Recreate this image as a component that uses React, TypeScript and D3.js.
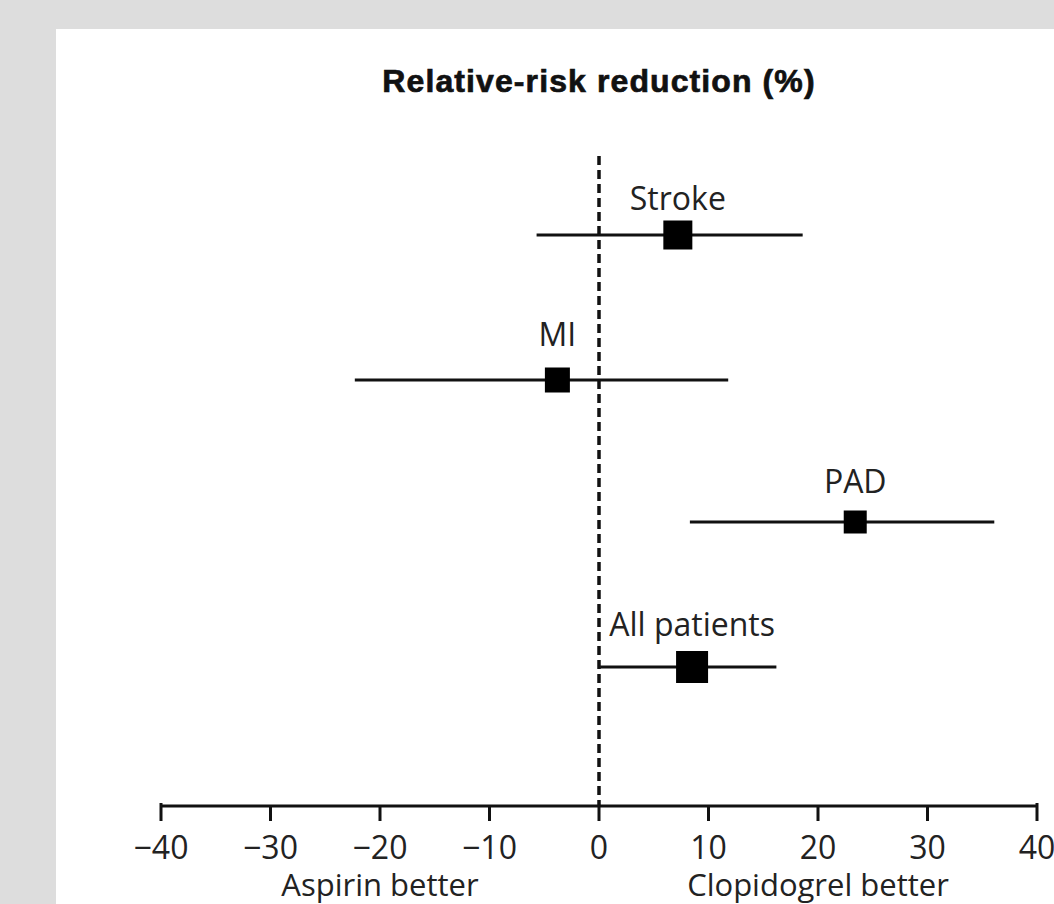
import React from "react";
import * as d3 from "d3";

const categories = ["Stroke", "MI", "PAD", "All patients"];
const estimates = [7.2, -3.8, 23.4, 8.5];
const lowerCI = [-5.7, -22.3, 8.3, 0.1];
const upperCI = [18.6, 11.8, 36.1, 16.2];
const markerSizes = [29, 25, 23, 32];
const tickValues = [-40, -30, -20, -10, 0, 10, 20, 30, 40];
const title = "Relative-risk reduction (%)";
const leftLabel = "Aspirin better";
const rightLabel = "Clopidogrel better";

const W = 1054;
const H = 904;
const FONT = "'Open Sans', 'Noto Sans', sans-serif";
const TITLE_FONT = "'Liberation Sans', Arial, sans-serif";

export default function App() {
  const x = d3.scaleLinear().domain([-40, 40]).range([161, 1037]);
  const rowY = [235, 380, 522, 667];
  const labelOffset = [38, 47, 42, 44];
  const axisY = 806;
  const fmt = (v: number) => (v < 0 ? "\u2212" + Math.abs(v) : String(v));

  return (
    <div style={{ position: "absolute", left: 0, top: 0 }}>
      <svg width={W} height={H} style={{ display: "block" }}>
        <rect x={0} y={0} width={W} height={H} fill="#dddddd" />
        <rect x={56} y={29} width={W - 56} height={H - 29} fill="#ffffff" />
        <text
          x={x(0)}
          y={81}
          textAnchor="middle"
          dominantBaseline="central"
          fontFamily={TITLE_FONT}
          fontWeight="bold"
          fontSize={32}
          letterSpacing={1.1}
          stroke="#111"
          strokeWidth={0.7}
          fill="#111"
        >
          {title}
        </text>
        {/* dashed zero line */}
        <line
          x1={x(0)}
          x2={x(0)}
          y1={156}
          y2={axisY}
          stroke="#111"
          strokeWidth={3.5}
          strokeDasharray="9,5"
        />
        {categories.map((c, i) => {
          const cy = rowY[i];
          const s = markerSizes[i];
          return (
            <g key={c}>
              <line
                x1={x(lowerCI[i])}
                x2={x(upperCI[i])}
                y1={cy}
                y2={cy}
                stroke="#111"
                strokeWidth={3.2}
              />
              <rect
                x={x(estimates[i]) - s / 2}
                y={cy - s / 2}
                width={s}
                height={s}
                fill="#000"
              />
              <text
                x={x(estimates[i])}
                y={cy - labelOffset[i]}
                textAnchor="middle"
                dominantBaseline="central"
                fontFamily={FONT}
                fontSize={32}
                fill="#222"
              >
                {c}
              </text>
            </g>
          );
        })}
        {/* axis */}
        <line x1={x(-40)} x2={x(40)} y1={axisY} y2={axisY} stroke="#111" strokeWidth={3} />
        {tickValues.map((t) => (
          <g key={t}>
            <line
              x1={x(t)}
              x2={x(t)}
              y1={axisY - (Math.abs(t) === 40 ? 3 : 0)}
              y2={axisY + 15}
              stroke="#111"
              strokeWidth={3}
            />
            <text
              x={x(t)}
              y={846}
              textAnchor="middle"
              dominantBaseline="central"
              fontFamily={FONT}
              fontSize={32}
              fill="#222"
            >
              {fmt(t)}
            </text>
          </g>
        ))}
        <text
          x={x(-20)}
          y={884}
          textAnchor="middle"
          dominantBaseline="central"
          fontFamily={FONT}
          fontSize={31}
          fill="#222"
        >
          {leftLabel}
        </text>
        <text
          x={x(20)}
          y={884}
          textAnchor="middle"
          dominantBaseline="central"
          fontFamily={FONT}
          fontSize={31}
          fill="#222"
        >
          {rightLabel}
        </text>
      </svg>
    </div>
  );
}
